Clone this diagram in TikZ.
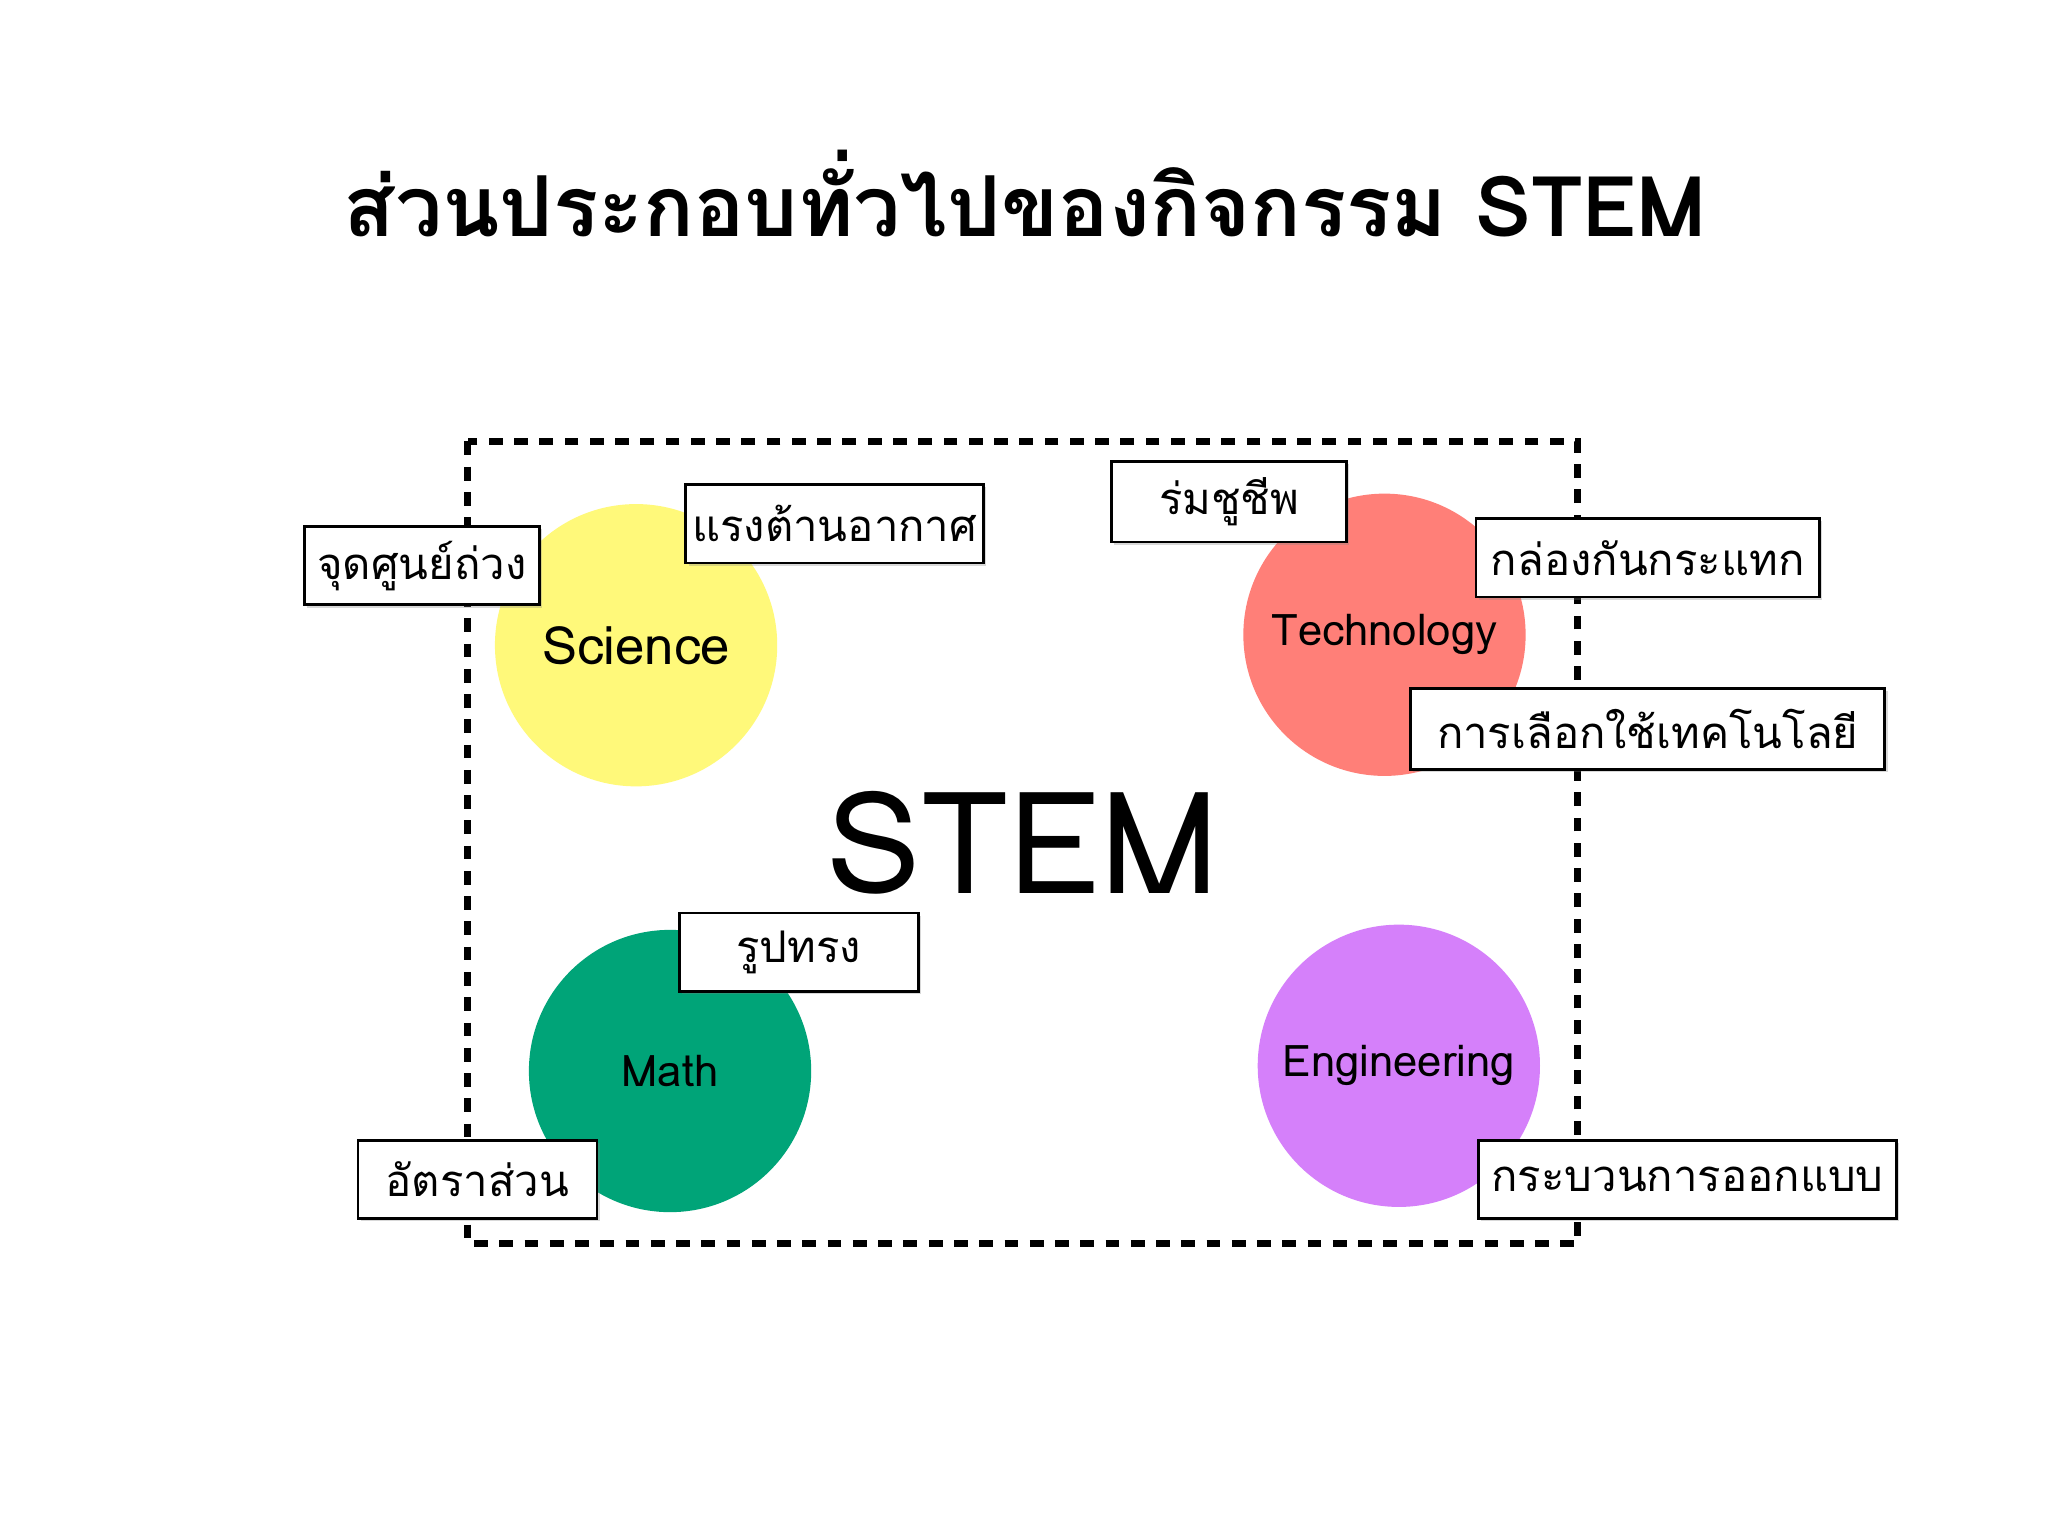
\documentclass[tikz,border=0pt]{standalone}
\usepackage{fontspec}
\setmainfont[Script=Thai]{Loma}
\usetikzlibrary{shadows}
\begin{document}
\begin{tikzpicture}[x=0.01cm,y=-0.01cm,
  lbl/.style={draw=black,line width=0.6pt,fill=white,inner sep=0pt,anchor=north west,font=\fontsize{9.5pt}{11pt}\selectfont,drop shadow={opacity=0.3,shadow xshift=0.6pt,shadow yshift=-0.6pt}},
  circ/.style={circle,minimum size=2.16cm,inner sep=0pt}]
\useasboundingbox (0,0) rectangle (1568,1176);
\fill[white] (0,0) rectangle (1568,1176);
\node (title) at (785,148) {\fontsize{18.3pt}{22pt}\selectfont\bfseries ส่วนประกอบทั่วไปของกิจกรรม STEM};
\draw[line width=1.5pt,dash pattern=on 3pt off 2.5pt] (358,338) rectangle (1208,952);
\node[circ,fill={rgb,255:red,255;green,249;blue,122}] (sci) at (487,494) {\fontsize{11.5pt}{13pt}\selectfont Science};
\node[circ,fill={rgb,255:red,255;green,127;blue,120}] (tech) at (1060,486) {\fontsize{9.5pt}{11pt}\selectfont Technology};
\node[circ,fill={rgb,255:red,0;green,164;blue,120}] (math) at (513,820) {\fontsize{9.5pt}{11pt}\selectfont Math};
\node[circ,fill={rgb,255:red,213;green,128;blue,250}] (eng) at (1071,816) {\fontsize{9.5pt}{11pt}\selectfont Engineering};
\node (stem) at (783,645) {\fontsize{31pt}{36pt}\selectfont STEM};
\node[lbl,minimum width=180*0.01cm,minimum height=60*0.01cm] (l1) at (232,402) {จุดศูนย์ถ่วง};
\node[lbl,minimum width=228*0.01cm,minimum height=60*0.01cm] (l2) at (524,370) {แรงต้านอากาศ};
\node[lbl,minimum width=180*0.01cm,minimum height=62*0.01cm] (l3) at (850,352) {ร่มชูชีพ};
\node[lbl,minimum width=263*0.01cm,minimum height=60*0.01cm] (l4) at (1129,396) {กล่องกันกระแทก};
\node[lbl,minimum width=363*0.01cm,minimum height=62*0.01cm] (l5) at (1079,526) {การเลือกใช้เทคโนโลยี};
\node[lbl,minimum width=183*0.01cm,minimum height=60*0.01cm] (l6) at (519,698) {รูปทรง};
\node[lbl,minimum width=183*0.01cm,minimum height=60*0.01cm] (l7) at (273,872) {อัตราส่วน};
\node[lbl,minimum width=320*0.01cm,minimum height=60*0.01cm] (l8) at (1131,872) {กระบวนการออกแบบ};
\end{tikzpicture}
\end{document}
